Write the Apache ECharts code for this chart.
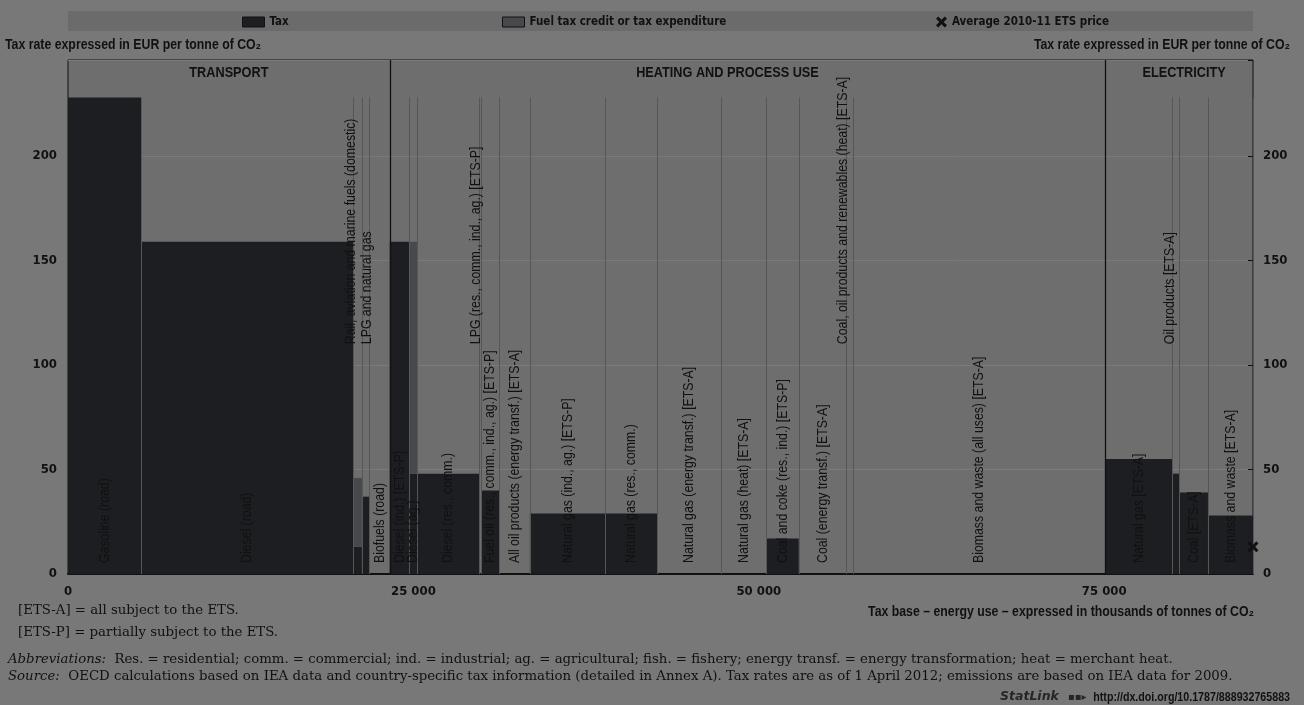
<!DOCTYPE html>
<html>
<head>
<meta charset="utf-8">
<title>Tax rates on energy use</title>
<script src="https://cdn.jsdelivr.net/npm/echarts@6/dist/echarts.min.js"></script>
<style>
  html, body { margin: 0; padding: 0; background: #787878; }
  #main { width: 1304px; height: 705px; }
</style>
</head>
<body>
<div id="main"></div>
<script type="text/javascript">

// categories, left to right
var names = [
    'Gasoline (road)', 'Diesel (road)', 'Rail, aviation and marine fuels (domestic)',
    'LPG and natural gas', 'Biofuels (road)',
    'Diesel (ind.) [ETS-P]', 'Diesel (ag.)', 'Diesel (res., comm.)',
    'LPG (res., comm., ind., ag.) [ETS-P]', 'Fuel oil (res., comm., ind., ag.) [ETS-P]',
    'All oil products (energy transf.) [ETS-A]', 'Natural gas (ind., ag.) [ETS-P]',
    'Natural gas (res., comm.)', 'Natural gas (energy transf.) [ETS-A]',
    'Natural gas (heat) [ETS-A]', 'Coal and coke (res., ind.) [ETS-P]',
    'Coal (energy transf.) [ETS-A]', 'Coal, oil products and renewables (heat) [ETS-A]',
    'Biomass and waste (all uses) [ETS-A]',
    'Natural gas [ETS-A]', 'Oil products [ETS-A]', 'Coal [ETS-A]', 'Biomass and waste [ETS-A]'
];
// tax base, thousands of tonnes of CO2 (bar widths)
var taxBase = [5300, 15350, 620, 550, 1470,
    1390, 600, 4470, 150, 1310, 2220, 5450, 3760, 4640, 3250, 2360, 3440, 480, 18260,
    4860, 490, 2090, 3260];
// effective tax rate, EUR per tonne of CO2
var taxRate = [228, 159, 13, 37, 0,
    159, 48, 48, 0, 40, 0, 29, 29, 0, 0, 17, 0, 0, 0,
    55, 48, 39, 28];
// top of the fuel tax credit / tax expenditure band (0 = none)
var creditRate = [0, 0, 46, 0, 0,
    0, 159, 0, 0, 0, 0, 0, 0, 0, 0, 0, 0, 0, 0,
    0, 0, 0, 0];
var sectionNames = ['TRANSPORT', 'HEATING AND PROCESS USE', 'ELECTRICITY'];
var sectionCount = [5, 14, 4];
var etsPrice = [13];
var xTickStep = 25000;
var yTickStep = 50;
var yTickMax = 200;

// styling
var TAX_COLOR = '#1c1e22';
var CREDIT_COLOR = '#47494c';
var SEP_COLOR = '#565656';
var INK = '#111111';
var COND = '"DejaVu Sans Condensed", sans-serif';
var SANS = '"Liberation Sans", Arial, sans-serif';
var NARROW_X = 0.82;   // Arial squeezed to look like Arial Narrow
var SERIF = '"DejaVu Serif", "Liberation Serif", serif';
var Y_MAX = 246;
var LIFT_RATE = 110;
// labels of thin bars sit higher up; value = horizontal nudge in px
var liftedLabels = {
    'Rail, aviation and marine fuels (domestic)': -7,
    'LPG and natural gas': 1,
    'LPG (res., comm., ind., ag.) [ETS-P]': -4,
    'Coal, oil products and renewables (heat) [ETS-A]': -7,
    'Oil products [ETS-A]': -6
};
var sectionDx = [0, -20, 5];
var X_PATH = 'path://M0,2L2,0L5,3L8,0L10,2L7,5L10,8L8,10L5,7L2,10L0,8L3,5Z';

var starts = [];
var total = 0;
for (var i = 0; i < taxBase.length; i++) {
    starts.push(total);
    total += taxBase[i];
}
var topRate = Math.max.apply(null, taxRate);

var taxData = [], creditData = [], sepData = [];
for (var i = 0; i < names.length; i++) {
    taxData.push([starts[i], starts[i] + taxBase[i], 0, taxRate[i]]);
    creditData.push([starts[i], starts[i] + taxBase[i], taxRate[i], creditRate[i]]);
    sepData.push([starts[i], starts[i] + taxBase[i], topRate]);
}
var sectionData = [];
var k = 0;
for (var s = 0; s < sectionNames.length; s++) {
    var a = starts[k];
    k += sectionCount[s];
    var b = k < starts.length ? starts[k] : total;
    sectionData.push([a, b, Y_MAX]);
}

function bandItem(fill) {
    return function (params, api) {
        var lo = api.value(2), hi = api.value(3);
        if (!(hi > lo)) return null;
        var p = api.coord([api.value(0), hi]);
        var q = api.coord([api.value(1), lo]);
        return {
            type: 'rect',
            shape: { x: p[0], y: p[1], width: q[0] - p[0], height: q[1] - p[1] },
            style: { fill: fill }
        };
    };
}

function fmtThousands(v) {
    return String(v).replace(/\B(?=(\d{3})+(?!\d))/g, ' ');
}

// narrow bold caption drawn as graphic text
function caption(text, x, y, align, size) {
    return {
        type: 'text', x: x, y: y, scaleX: NARROW_X,
        style: { text: text, font: 'bold ' + (size || 15) + 'px ' + SANS, fill: INK, align: align, verticalAlign: 'middle' }
    };
}

function note(text, x, y) {
    return {
        type: 'text', x: x, y: y,
        style: {
            text: text, font: '13.3px ' + SERIF, fill: INK, verticalAlign: 'middle',
            rich: { i: { font: 'italic 13.3px ' + SERIF, fill: INK } }
        }
    };
}

var chart = echarts.init(document.getElementById('main'));

var legendText = { fontFamily: COND, fontWeight: 'bold', fontSize: 11.5, color: INK };

var option = {
    animation: false,
    backgroundColor: '#787878',
    textStyle: { fontFamily: COND, color: INK },
    grid: {
        left: 68, right: 51, top: 60, bottom: 131,
        show: true, backgroundColor: '#6e6e6e',
        borderColor: INK, borderWidth: 1,
        outerBoundsMode: 'none'
    },
    legend: [
        {
            left: 237, top: 11, itemWidth: 22, itemHeight: 10, textStyle: legendText,
            data: [{ name: 'Tax', icon: 'rect', itemStyle: { color: TAX_COLOR, borderColor: INK, borderWidth: 1 } }]
        },
        {
            left: 497, top: 11, itemWidth: 22, itemHeight: 10, textStyle: legendText,
            data: [{ name: 'Fuel tax credit or tax expenditure', icon: 'rect', itemStyle: { color: CREDIT_COLOR, borderColor: INK, borderWidth: 1 } }]
        },
        {
            left: 931, top: 11, itemWidth: 11, itemHeight: 11, textStyle: legendText,
            data: [{ name: 'Average 2010-11 ETS price', icon: X_PATH, itemStyle: { color: INK, opacity: 1 } }]
        }
    ],
    xAxis: {
        type: 'value', min: 0, max: total, interval: xTickStep,
        axisLine: { show: true, lineStyle: { color: INK, width: 2 } },
        axisTick: { show: false },
        splitLine: { show: false },
        axisLabel: {
            margin: 11, color: INK, fontFamily: COND, fontWeight: 'bold', fontSize: 13,
            formatter: function (v) { return v % xTickStep === 0 ? fmtThousands(v) : ''; }
        }
    },
    yAxis: [
        {
            type: 'value', position: 'left', min: 0, max: Y_MAX, interval: yTickStep,
            axisLine: { show: false }, axisTick: { show: false },
            splitLine: { show: true, lineStyle: { color: '#7b7b7b', width: 1 } },
            axisLabel: {
                margin: 11, color: INK, fontFamily: COND, fontWeight: 'bold', fontSize: 13,
                formatter: function (v) { return v % yTickStep === 0 && v <= yTickMax ? v : ''; }
            }
        },
        {
            type: 'value', position: 'right', min: 0, max: Y_MAX, interval: yTickStep,
            axisLine: { show: false },
            axisTick: { show: true, inside: true, length: 5, lineStyle: { color: INK } },
            splitLine: { show: false },
            axisLabel: {
                margin: 10, color: INK, fontFamily: COND, fontWeight: 'bold', fontSize: 13,
                formatter: function (v) { return v % yTickStep === 0 && v <= yTickMax ? v : ''; }
            }
        }
    ],
    graphic: [
        { type: 'rect', left: 68, top: 11, z: -1, shape: { width: 1185, height: 20 }, style: { fill: '#6b6b6b' } },
        caption('Tax rate expressed in EUR per tonne of CO₂', 5, 45, 'left'),
        caption('Tax rate expressed in EUR per tonne of CO₂', 1290, 45, 'right'),
        caption('Tax base – energy use – expressed in thousands of tonnes of CO₂', 1254, 612, 'right'),
        note('[ETS-A] = all subject to the ETS.', 18, 611),
        note('[ETS-P] = partially subject to the ETS.', 18, 633),
        note('{i|Abbreviations:}  Res. = residential; comm. = commercial; ind. = industrial; ag. = agricultural; fish. = fishery; energy transf. = energy transformation; heat = merchant heat.', 8, 660),
        note('{i|Source:}  OECD calculations based on IEA data and country-specific tax information (detailed in Annex A). Tax rates are as of 1 April 2012; emissions are based on IEA data for 2009.', 8, 677),
        {
            type: 'text', x: 1000, y: 697,
            style: { text: 'StatLink', font: 'italic bold 12.5px "DejaVu Sans", sans-serif', fill: '#262626', verticalAlign: 'middle' }
        },
        {
            type: 'text', x: 1068, y: 697,
            style: { text: '▪▪▸', font: 'bold 10px "DejaVu Sans", sans-serif', fill: '#262626', verticalAlign: 'middle' }
        },
        caption('http://dx.doi.org/10.1787/888932765883', 1290, 697, 'right', 13)
    ],
    series: [
        {
            name: 'Tax', type: 'custom', renderItem: bandItem(TAX_COLOR),
            itemStyle: { color: TAX_COLOR },
            encode: { x: [0, 1], y: [2, 3] }, data: taxData
        },
        {
            name: 'Fuel tax credit or tax expenditure', type: 'custom', renderItem: bandItem(CREDIT_COLOR),
            itemStyle: { color: CREDIT_COLOR },
            encode: { x: [0, 1], y: [2, 3] }, data: creditData
        },
        {
            name: 'separators', type: 'custom',
            encode: { x: [0, 1], y: 2 }, data: sepData,
            renderItem: function (params, api) {
                var idx = params.dataIndex;
                var base = api.coord([api.value(0), 0]);
                var end = api.coord([api.value(1), 0]);
                var top = api.coord([api.value(1), api.value(2)]);
                var lx = Math.round(end[0]) + 0.5;
                var name = names[idx];
                var lifted = liftedLabels.hasOwnProperty(name);
                var ly = lifted ? api.coord([api.value(0), LIFT_RATE])[1] : base[1] - 11;
                var dx = lifted ? liftedLabels[name] : 0;
                return {
                    type: 'group',
                    children: [
                        {
                            type: 'line',
                            shape: { x1: lx, y1: base[1], x2: lx, y2: top[1] },
                            style: { stroke: SEP_COLOR, lineWidth: 1 }
                        },
                        {
                            type: 'text', x: (base[0] + end[0]) / 2 + dx, y: ly,
                            rotation: Math.PI / 2, scaleX: NARROW_X,
                            style: { text: name, fill: INK, font: '15px ' + SANS, align: 'left', verticalAlign: 'middle' }
                        }
                    ]
                };
            }
        },
        {
            name: 'sections', type: 'custom',
            encode: { x: [0, 1], y: 2 }, data: sectionData,
            renderItem: function (params, api) {
                var idx = params.dataIndex;
                var p = api.coord([api.value(0), 0]);
                var q = api.coord([api.value(1), api.value(2)]);
                var children = [{
                    type: 'text', x: (p[0] + q[0]) / 2 + sectionDx[idx], y: q[1] + 13, scaleX: NARROW_X,
                    style: { text: sectionNames[idx], fill: INK, font: 'bold 15.5px ' + SANS, align: 'center', verticalAlign: 'middle' }
                }];
                if (idx > 0) {
                    var lx = Math.round(p[0]) + 0.5;
                    children.push({
                        type: 'line',
                        shape: { x1: lx, y1: p[1], x2: lx, y2: q[1] },
                        style: { stroke: INK, lineWidth: 1.3 }
                    });
                }
                return { type: 'group', children: children };
            }
        },
        {
            name: 'Average 2010-11 ETS price', type: 'scatter', clip: false,
            symbol: X_PATH, symbolSize: 11,
            itemStyle: { color: INK, opacity: 1 },
            data: [[total, etsPrice[0]]], z: 5
        }
    ]
};

chart.setOption(option);

</script>
</body>
</html>
